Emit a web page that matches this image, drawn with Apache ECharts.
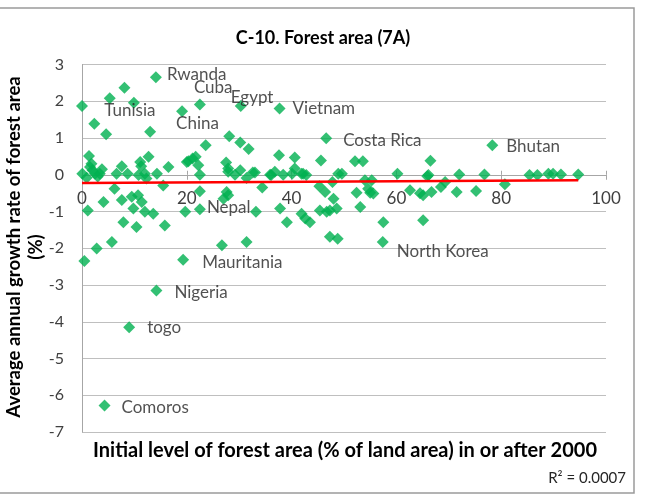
<!DOCTYPE html>
<html>
<head>
<meta charset="utf-8">
<script src="https://cdn.jsdelivr.net/npm/echarts@6/dist/echarts.min.js"></script>
<style>html,body{margin:0;padding:0;background:#fff;}#c{width:651px;height:495px;}</style>
</head>
<body>
<div id="c"></div>
<script>
// ---- data ----
const pointX = [0, 8.1, 5.3, 9.9, 4.6, 13.0, 1.34, 0.06, 1.53, 2.48, 3.4, 0.9, 2.0, 3.0, 7.6, 6.6, 8.7, 6.2, 12.7, 11.3,
  10.8, 12.0, 12.3, 14.3, 16.5, 15.5, 20.0, 4.1, 1.1, 7.6, 9.5, 10.7, 9.8, 11.4, 12.0, 13.6, 7.9, 10.4, 15.8, 5.7,
  2.8, 0.45, 19.7, 11.1, 21.7, 20.3, 23.6, 28.1, 30.2, 31.8, 27.5, 22.5, 27.9, 29.2, 31.4, 32.6, 22.5, 27.6, 33.2, 37.6,
  40.6, 21.1, 22.2, 27.9, 30.2, 33.0, 34.4, 36.1, 36.8, 38.4, 40.1, 40.6, 27.9, 27.0, 37.8, 39.1, 26.7, 31.4, 45.6, 52.1,
  53.6, 66.5, 35.9, 42.2, 49.6, 60.2, 66.1, 69.3, 45.3, 47.8, 54.0, 55.3, 52.4, 55.0, 62.6, 65.1, 41.9, 45.4, 47.3, 53.1,
  57.5, 65.1, 41.9, 42.8, 48.9, 46.4, 48.0, 48.6, 46.7, 54.6, 55.6, 42.6, 43.5, 47.3, 48.8, 65.9, 72.0, 76.8, 68.5, 64.5,
  66.7, 71.5, 75.2, 80.7, 85.4, 86.9, 89.0, 89.9, 91.4, 94.7, 1.8, 3.8];
const pointY = [1.87, 2.37, 2.08, 1.96, 1.10, 1.17, 0.51, 0.03, 0.21, 0.03, 0.03, -0.08, 0.12, -0.05, 0.23, 0.03, 0.03, -0.38, 0.49, 0.23,
  -0.01, 0.03, -0.10, 0.03, 0.21, -0.29, 0.35, -0.74, -0.97, -0.69, -0.60, -0.56, -0.92, -0.74, -1.01, -1.06, -1.29, -1.42, -1.38, -1.83,
  -2.01, -2.35, -1.01, 0.35, 0.49, 0.37, 0.80, 1.05, 0.88, 0.70, 0.33, 0.00, 0.17, 0.00, -0.09, 0.06, -0.45, -0.47, -1.01, 0.53,
  0.47, 0.44, 0.26, 0.08, 0.12, 0.06, -0.35, -0.01, 0.08, 0.00, 0.03, 0.17, -0.56, -0.65, -0.92, -1.29, -1.92, -1.83, 0.39, 0.37,
  0.37, 0.38, 0.00, 0.03, 0.03, 0.03, -0.01, -0.20, -0.31, -0.20, -0.15, -0.15, -0.49, -0.49, -0.42, -0.56, -1.06, -0.97, -0.97, -0.88,
  -1.29, -1.24, 0.03, -0.01, 0.03, -0.47, -0.65, -0.92, -1.01, -0.38, -0.51, -1.19, -1.29, -1.69, -1.74, -0.04, 0.01, 0.01, -0.33, -0.50,
  -0.47, -0.47, -0.44, -0.26, -0.01, -0.01, 0.03, 0.03, 0.01, 0.01, 0.30, 0.15];

const labeledNames = ['Rwanda', 'Cuba', 'Egypt', 'Vietnam', 'Tunisia', 'China', 'Costa Rica', 'Bhutan', 'Nepal', 'Mauritania', 'Nigeria', 'North Korea', 'togo', 'Comoros'];
const labeledX = [14.1, 22.5, 30.3, 37.7, 2.35, 19.1, 46.6, 78.3, 22.5, 19.3, 14.2, 57.4, 9.0, 4.3];
const labeledY = [2.65, 1.91, 1.87, 1.80, 1.39, 1.73, 0.99, 0.80, -0.94, -2.31, -3.15, -1.83, -4.15, -6.28];

const trendX = [0, 94.7];
const trendY = [-0.225, -0.15];

const xTicks = [0, 20, 40, 60, 80, 100];
const yTicks = [3, 2, 1, 0, -1, -2, -3, -4, -5, -6, -7];

const titleText = 'C-10. Forest area (7A)';
const xTitle = 'Initial level of forest area (% of land area) in or after 2000';
const yTitle = 'Average annual growth rate of forest area\n(%)';
const r2Text = 'R\u00b2 = 0.0007';

// ---- styling / layout ----
const FONT = 'Lato';
const green = '#00B050';
const W = 651, H = 495;
const GRID = {left: 82, right: 45, top: 64.5, bottom: 63};
const yMin = yTicks[yTicks.length - 1], yMax = yTicks[0];
const plotH = H - GRID.top - GRID.bottom;
// place the x axis on the y = 0 line
const zeroFromBottom = plotH * (0 - yMin) / (yMax - yMin);
const zeroFromTop = plotH - zeroFromBottom;

const labelOffsets = {
  'Rwanda': [0, -3], 'Cuba': [-17, -17], 'Egypt': [-21, -9], 'Vietnam': [2, 0], 'Tunisia': [-1, -13],
  'China': [-17, 12], 'Costa Rica': [6, 2], 'Bhutan': [3, 1], 'Nepal': [-4, -2], 'Mauritania': [8, 3],
  'Nigeria': [7, 2], 'North Korea': [3, 10], 'togo': [7, 0], 'Comoros': [6, 2]
};

const chart = echarts.init(document.getElementById('c'), null, {renderer: 'canvas'});
const plain = pointX.map((x, i) => [x, pointY[i]]);
const labeled = labeledX.map((x, i) => ({
  value: [x, labeledY[i]],
  name: labeledNames[i],
  label: {offset: labelOffsets[labeledNames[i]] || [0, 0]}
}));

chart.setOption({
  animation: false,
  backgroundColor: '#fff',
  textStyle: {fontFamily: FONT},
  grid: Object.assign({containLabel: false}, GRID),
  xAxis: [{
    type: 'value', min: xTicks[0], max: xTicks[xTicks.length - 1], interval: 20,
    position: 'bottom', offset: -zeroFromBottom,
    axisLine: {show: true, onZero: false, lineStyle: {color: '#a6a6a6', width: 1}},
    axisTick: {show: true, inside: false, length: 5, lineStyle: {color: '#a6a6a6'}},
    axisLabel: {color: '#404040', fontSize: 17, fontFamily: FONT, margin: 15},
    splitLine: {show: false}
  }, {
    type: 'value', min: xTicks[0], max: xTicks[xTicks.length - 1], interval: 20,
    position: 'top', offset: -zeroFromTop,
    axisLine: {show: false, onZero: false},
    axisTick: {show: true, inside: false, length: 4, lineStyle: {color: '#a6a6a6'}},
    axisLabel: {show: false},
    splitLine: {show: false}
  }],
  yAxis: {
    type: 'value', min: yMin, max: yMax, interval: 1,
    axisLine: {show: true, onZero: false, lineStyle: {color: '#a6a6a6'}},
    axisTick: {show: false},
    axisLabel: {color: '#404040', fontSize: 16, fontFamily: FONT, margin: 18},
    splitLine: {show: true, lineStyle: {color: '#bfbfbf', width: 1}}
  },
  series: [{
    type: 'scatter', symbol: 'diamond', symbolSize: 12,
    itemStyle: {color: green},
    data: plain, z: 3
  }, {
    type: 'scatter', symbol: 'diamond', symbolSize: 12,
    itemStyle: {color: green},
    label: {show: true, position: 'right', formatter: '{b}', color: '#262626', fontSize: 17, fontFamily: FONT},
    data: labeled, z: 3
  }, {
    type: 'line', data: trendX.map((x, i) => [x, trendY[i]]),
    symbol: 'none', lineStyle: {color: '#FF0000', width: 2.5}, z: 5, silent: true
  }],
  graphic: [
    {type: 'rect', shape: {x: -2, y: 8, width: 636, height: 485}, style: {fill: 'none', stroke: '#9a9a9a', lineWidth: 1.5}, z: 0},
    {type: 'text', x: 323, y: 38, style: {text: titleText, font: 'bold 18px ' + FONT, fill: '#000', textAlign: 'center', textVerticalAlign: 'middle'}},
    {type: 'text', x: 345, y: 451, style: {text: xTitle, font: 'bold 20px ' + FONT, fill: '#000', textAlign: 'center', textVerticalAlign: 'middle'}},
    {type: 'text', x: 25, y: 247, rotation: Math.PI / 2, style: {text: yTitle, font: 'bold 18.5px ' + FONT, fill: '#000', textAlign: 'center', textVerticalAlign: 'middle', lineHeight: 22}},
    {type: 'text', x: 626, y: 478, style: {text: r2Text, font: '15px ' + FONT, fill: '#262626', textAlign: 'right', textVerticalAlign: 'middle'}}
  ]
});
</script>
</body>
</html>
